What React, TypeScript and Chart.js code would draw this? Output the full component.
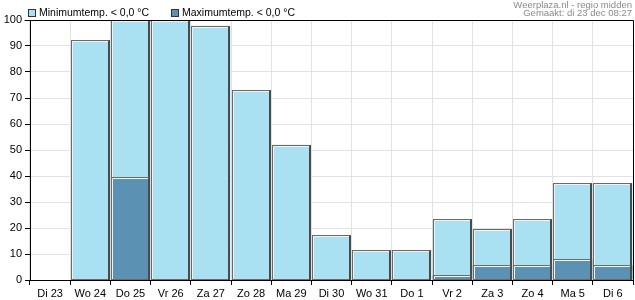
import React, { useEffect, useRef } from "react";
import { Chart, registerables } from "chart.js";

Chart.register(...registerables);

const categories = ["Di 23", "Wo 24", "Do 25", "Vr 26", "Za 27", "Zo 28", "Ma 29", "Di 30", "Wo 31", "Do 1", "Vr 2", "Za 3", "Zo 4", "Ma 5", "Di 6"];
const minTemp = [0, 92.2, 100, 100, 97.8, 73, 52, 17.3, 11.5, 11.5, 23.3, 19.5, 23.3, 37.2, 37.2];
const maxTemp = [0, 0, 39.5, 0, 0, 0, 0, 0, 0, 0, 1.8, 5.8, 5.8, 8, 5.8];
const yTicks = [0, 10, 20, 30, 40, 50, 60, 70, 80, 90, 100];
const legendLabels = ["Minimumtemp. < 0,0 °C", "Maximumtemp. < 0,0 °C"];
const headerLines = ["Weerplaza.nl - regio midden", "Gemaakt: di 23 dec 08:27"];

const LIGHT = "#a9e1f2";
const DARK = "#5b92b4";
const FONT = "'Liberation Sans', Arial, sans-serif";

const barBorderPlugin = {
  id: "barBorder",
  afterDatasetDraw(chart: any, args: any) {
    const ctx = chart.ctx;
    const meta = args.meta;
    const ds = chart.data.datasets[args.index];
    ctx.save();
    meta.data.forEach((el: any, i: number) => {
      const v = ds.data[i];
      if (!v) return;
      const p = el.getProps(["x", "y", "base", "width"], true);
      const left = Math.round(p.x - p.width / 2);
      const right = Math.round(p.x + p.width / 2);
      const top = Math.round(p.y);
      const bottom = Math.round(p.base);
      ctx.lineWidth = 1;
      ctx.strokeStyle = "#6a6a6a";
      ctx.strokeRect(left + 0.5, top + 0.5, right - left - 1, bottom - top - 1);
      ctx.strokeStyle = "#f2f2f2";
      ctx.beginPath();
      ctx.moveTo(left + 1.5, bottom - 1);
      ctx.lineTo(left + 1.5, top + 1.5);
      ctx.lineTo(right - 2, top + 1.5);
      ctx.stroke();
      ctx.strokeStyle = "#4a4a4a";
      ctx.beginPath();
      ctx.moveTo(right - 1.5, top + 1);
      ctx.lineTo(right - 1.5, bottom);
      ctx.stroke();
      ctx.beginPath();
      ctx.moveTo(right - 0.5, top);
      ctx.lineTo(right - 0.5, bottom);
      ctx.stroke();
    });
    ctx.restore();
  },
};

const framePlugin = {
  id: "frame",
  afterDatasetsDraw(chart: any) {
    const { ctx, chartArea } = chart;
    ctx.save();
    ctx.strokeStyle = "#000";
    ctx.lineWidth = 1;
    ctx.beginPath();
    ctx.moveTo(Math.round(chartArea.left) - 6 + 0.5, Math.round(chartArea.top) + 0.5);
    ctx.lineTo(Math.round(chartArea.right) + 0.5, Math.round(chartArea.top) + 0.5);
    ctx.lineTo(Math.round(chartArea.right) + 0.5, Math.round(chartArea.bottom) + 0.5);
    ctx.stroke();
    ctx.restore();
  },
  afterDraw(chart: any) {
    const ctx = chart.ctx;
    ctx.save();
    ctx.font = "10.5px " + FONT;
    ctx.textBaseline = "middle";
    ctx.textAlign = "left";
    const items = [
      { x: 28, color: LIGHT, text: legendLabels[0] },
      { x: 171, color: DARK, text: legendLabels[1] },
    ];
    items.forEach((it) => {
      ctx.fillStyle = it.color;
      ctx.fillRect(it.x, 9, 8, 8);
      ctx.strokeStyle = "#333";
      ctx.lineWidth = 1;
      ctx.strokeRect(it.x + 0.5, 9.5, 7, 7);
      ctx.fillStyle = "#000";
      ctx.fillText(it.text, it.x + 11, 13.5);
    });
    ctx.font = "9.5px " + FONT;
    ctx.fillStyle = "#8a8a8a";
    ctx.textAlign = "right";
    ctx.fillText(headerLines[0], 632, 5);
    ctx.fillText(headerLines[1], 632, 13.5);
    ctx.restore();
  },
};

export default function App() {
  const ref = useRef<HTMLCanvasElement>(null);
  useEffect(() => {
    document.body.style.margin = "0";
    const chart = new Chart(ref.current as HTMLCanvasElement, {
      type: "bar",
      data: {
        labels: categories,
        datasets: [
          {
            label: legendLabels[1],
            data: maxTemp,
            backgroundColor: DARK,
            borderWidth: 0,
            order: 1,
            grouped: false,
            categoryPercentage: 1,
            barPercentage: 0.975,
          } as any,
          {
            label: legendLabels[0],
            data: minTemp,
            backgroundColor: LIGHT,
            borderWidth: 0,
            order: 2,
            grouped: false,
            categoryPercentage: 1,
            barPercentage: 0.975,
          } as any,
        ],
      },
      options: {
        responsive: false,
        animation: false,
        layout: { padding: { top: 20, right: 2, left: 0, bottom: 0 } },
        plugins: { legend: { display: false }, tooltip: { enabled: false } },
        scales: {
          x: {
            offset: true,
            grid: { offset: true, color: "#e2e2e2", tickColor: "#000", tickLength: 5 },
            border: { color: "#000" },
            ticks: { color: "#000", font: { size: 11, family: FONT }, padding: 2, maxRotation: 0, autoSkip: false },
            afterFit: (s: any) => { s.height = 20; },
          },
          y: {
            min: 0,
            max: 100,
            afterBuildTicks: (s: any) => { s.ticks = yTicks.map((v) => ({ value: v })); },
            grid: { color: "#e2e2e2", tickColor: "#000", tickLength: 5 },
            border: { color: "#000" },
            ticks: { color: "#000", font: { size: 11, family: FONT }, padding: 3 },
            afterFit: (s: any) => { s.width = 30; },
          },
        },
      } as any,
      plugins: [barBorderPlugin, framePlugin],
    });
    return () => chart.destroy();
  }, []);
  return (
    <div style={{ position: "absolute", left: 0, top: 0 }}>
      <canvas ref={ref} width={635} height={300} style={{ display: "block" }} />
    </div>
  );
}
